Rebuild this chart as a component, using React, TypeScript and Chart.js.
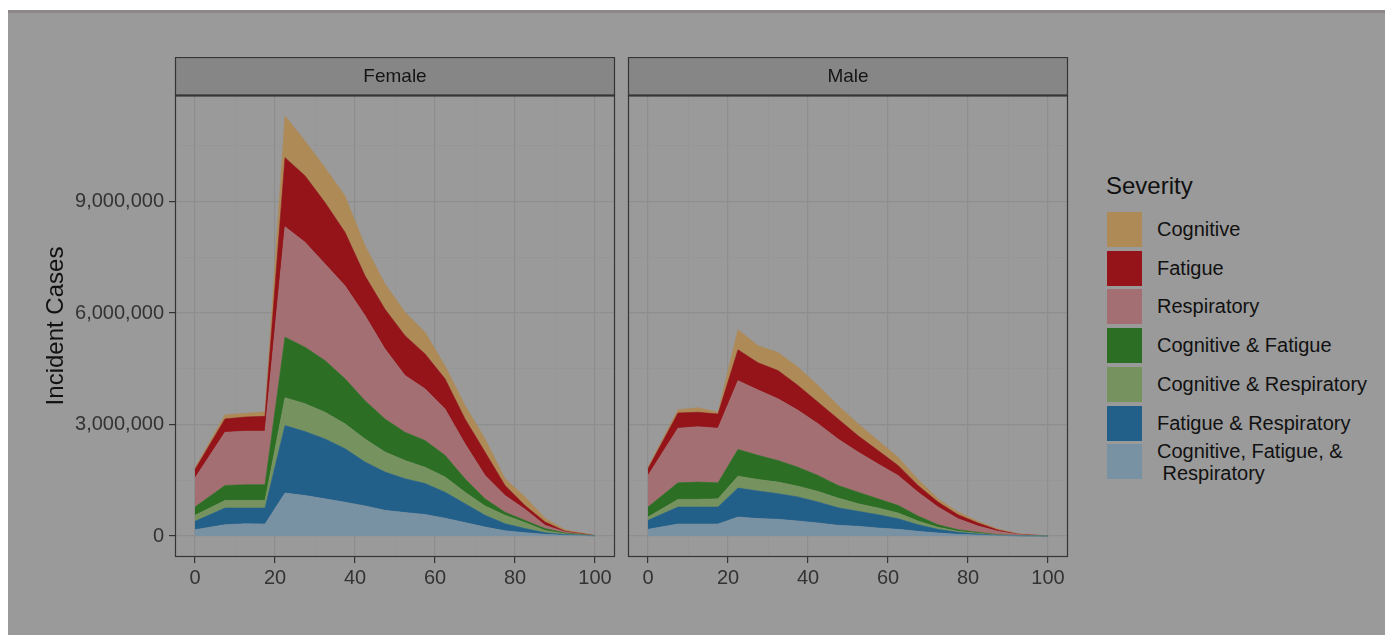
import React, { useEffect, useRef } from "react";
import { Chart, registerables } from "chart.js";

Chart.register(...registerables);

const FONT = "'Liberation Sans', Arial, Helvetica, sans-serif";

// Age (x) positions
const ageX = [0, 7.5, 12.5, 17.5, 22.5, 27.5, 32.5, 37.5, 42.5, 47.5, 52.5, 57.5, 62.5, 67.5, 72.5, 77.5, 82.5, 87.5, 92.5, 100];

// Severity categories, stacked bottom -> top
const severityLabels = [
  "Cognitive, Fatigue, & Respiratory",
  "Fatigue & Respiratory",
  "Cognitive & Respiratory",
  "Cognitive & Fatigue",
  "Respiratory",
  "Fatigue",
  "Cognitive",
];
const severityColors = ["#7891a3", "#22608a", "#76935f", "#2d6e25", "#a46f72", "#941419", "#ae8a57"];

// Female incident cases per severity
const femaleCFR = [170000, 304000, 330000, 322000, 1155000, 1090000, 1000000, 910000, 810000, 690000, 630000, 580000, 480000, 360000, 240000, 140000, 90000, 45000, 20000, 2000];
const femaleFR = [224000, 448000, 422000, 430000, 1815000, 1720000, 1610000, 1440000, 1180000, 1030000, 910000, 830000, 700000, 510000, 320000, 190000, 110000, 45000, 20000, 2000];
const femaleCR = [161000, 206000, 206000, 206000, 750000, 750000, 720000, 670000, 620000, 540000, 490000, 440000, 410000, 310000, 250000, 230000, 160000, 60000, 20000, 2000];
const femaleCF = [224000, 402000, 422000, 422000, 1630000, 1520000, 1390000, 1210000, 1030000, 890000, 760000, 720000, 580000, 360000, 190000, 80000, 60000, 50000, 20000, 2000];
const femaleR = [779000, 1430000, 1440000, 1440000, 2970000, 2820000, 2600000, 2500000, 2290000, 1880000, 1530000, 1390000, 1250000, 940000, 630000, 450000, 300000, 90000, 30000, 2000];
const femaleF = [232000, 360000, 380000, 400000, 1860000, 1790000, 1650000, 1440000, 1070000, 1070000, 1070000, 940000, 810000, 670000, 630000, 270000, 100000, 90000, 20000, 2000];
const femaleC = [40000, 110000, 100000, 120000, 1120000, 940000, 940000, 980000, 810000, 680000, 630000, 580000, 350000, 360000, 350000, 180000, 230000, 100000, 40000, 3000];

// Male incident cases per severity
const maleCFR = [179000, 322000, 322000, 322000, 510000, 469000, 448000, 403000, 349000, 287000, 260000, 215000, 179000, 125000, 81000, 45000, 27000, 9000, 3000, 0];
const maleFR = [242000, 457000, 457000, 457000, 780000, 741000, 692000, 647000, 564000, 474000, 403000, 358000, 287000, 179000, 98000, 53000, 27000, 9000, 3000, 0];
const maleCR = [89000, 206000, 206000, 221000, 320000, 310000, 310000, 290000, 287000, 259000, 206000, 179000, 152000, 99000, 54000, 27000, 18000, 9000, 3000, 0];
const maleCF = [269000, 445000, 465000, 430000, 720000, 650000, 580000, 510000, 430000, 340000, 311000, 248000, 206000, 134000, 71000, 45000, 26000, 9000, 3000, 0];
const maleR = [851000, 1470000, 1490000, 1470000, 1850000, 1760000, 1660000, 1530000, 1390000, 1250000, 1080000, 940000, 806000, 643000, 475000, 296000, 171000, 89000, 28000, 1000];
const maleF = [180000, 410000, 390000, 380000, 830000, 730000, 760000, 670000, 580000, 540000, 440000, 360000, 270000, 180000, 134000, 107000, 80000, 36000, 10000, 0];
const maleC = [40000, 90000, 120000, 50000, 540000, 460000, 490000, 490000, 450000, 360000, 320000, 270000, 220000, 160000, 87000, 72000, 45000, 27000, 10000, 1000];

const femaleSeries = [femaleCFR, femaleFR, femaleCR, femaleCF, femaleR, femaleF, femaleC];
const maleSeries = [maleCFR, maleFR, maleCR, maleCF, maleR, maleF, maleC];

// Axis ticks
const xTicks = [0, 10, 20, 30, 40, 50, 60, 70, 80, 90, 100];
const xMajor = [0, 20, 40, 60, 80, 100];
const yTicks = [0, 1500000, 3000000, 4500000, 6000000, 7500000, 9000000, 10500000];
const yMajor = [0, 3000000, 6000000, 9000000];

const X_MIN = -5;
const X_MAX = 105;
const Y_MIN = -565000;
const Y_MAX = 11865000;

const STRIP_H = 38;

type PanelProps = {
  title: string;
  series: number[][];
  showY: boolean;
  left: number;
  width: number;
  yAxisWidth: number;
  padRight: number;
};

function Panel({ title, series, showY, left, width, yAxisWidth, padRight }: PanelProps) {
  const ref = useRef<HTMLCanvasElement | null>(null);
  useEffect(() => {
    if (!ref.current) return;
    const datasets = series.map((vals, i) => ({
      label: severityLabels[i],
      data: ageX.map((x, j) => ({ x, y: vals[j] })),
      backgroundColor: severityColors[i],
      borderColor: severityColors[i],
      borderWidth: 0.6,
      pointRadius: 0,
      tension: 0,
      fill: i === 0 ? "origin" : "-1",
    }));
    const stripPlugin = {
      id: "strip",
      afterDraw(chart: any) {
        const { ctx, chartArea } = chart;
        const { left: l, right: r, top: t, bottom: b } = chartArea;
        ctx.save();
        ctx.fillStyle = "#868686";
        ctx.fillRect(l, t - STRIP_H, r - l, STRIP_H);
        ctx.strokeStyle = "#353535";
        ctx.lineWidth = 1.2;
        ctx.strokeRect(l + 0.5, t - STRIP_H + 0.5, r - l - 1, STRIP_H);
        ctx.strokeRect(l + 0.5, t + 0.5, r - l - 1, b - t - 1);
        ctx.beginPath();
        ctx.moveTo(l, t + 0.5);
        ctx.lineTo(r, t + 0.5);
        ctx.lineWidth = 2.2;
        ctx.stroke();
        ctx.fillStyle = "#151515";
        ctx.font = `19px ${FONT}`;
        ctx.textAlign = "center";
        ctx.textBaseline = "middle";
        ctx.fillText(title, (l + r) / 2, t - STRIP_H / 2 + 1);
        ctx.restore();
      },
    };
    const chart = new Chart(ref.current, {
      type: "line",
      data: { datasets },
      plugins: [stripPlugin],
      options: {
        animation: false,
        responsive: false,
        layout: { padding: { top: STRIP_H, left: 0, right: padRight, bottom: 0 } },
        plugins: { legend: { display: false }, tooltip: { enabled: false } },
        scales: {
          x: {
            type: "linear",
            min: X_MIN,
            max: X_MAX,
            afterBuildTicks: (s: any) => {
              s.ticks = xTicks.map((v) => ({ value: v }));
            },
            afterFit: (s: any) => {
              s.height = 43;
            },
            border: { display: false },
            grid: {
              color: (c: any) => (xMajor.includes(c.tick?.value) ? "#8e8e8e" : "#939393"),
              lineWidth: (c: any) => (xMajor.includes(c.tick?.value) ? 1.2 : 0.6),
              tickColor: (c: any) => (xMajor.includes(c.tick?.value) ? "#333333" : "rgba(0,0,0,0)"),
              tickLength: 6,
              tickWidth: 1.2,
            },
            ticks: {
              autoSkip: false,
              maxRotation: 0,
              padding: 3,
              color: "#333333",
              font: { family: FONT, size: 20 },
              callback: (v: any) => (xMajor.includes(Number(v)) ? String(v) : ""),
            },
          },
          y: {
            type: "linear",
            stacked: true,
            min: Y_MIN,
            max: Y_MAX,
            afterBuildTicks: (s: any) => {
              s.ticks = yTicks.map((v) => ({ value: v }));
            },
            afterFit: (s: any) => {
              s.width = yAxisWidth;
            },
            border: { display: false },
            title: {
              display: showY,
              text: "Incident Cases",
              color: "#111111",
              font: { family: FONT, size: 24 },
              padding: { top: 42, bottom: 0 },
            },
            grid: {
              color: (c: any) => (yMajor.includes(c.tick?.value) ? "#8e8e8e" : "#939393"),
              lineWidth: (c: any) => (yMajor.includes(c.tick?.value) ? 1.2 : 0.6),
              tickColor: (c: any) => (showY && yMajor.includes(c.tick?.value) ? "#333333" : "rgba(0,0,0,0)"),
              drawTicks: showY,
              tickLength: 6,
              tickWidth: 1.2,
            },
            ticks: {
              display: showY,
              autoSkip: false,
              padding: 5,
              color: "#333333",
              font: { family: FONT, size: 20 },
              callback: (v: any) => (yMajor.includes(Number(v)) ? Number(v).toLocaleString("en-US") : ""),
            },
          },
        },
      } as any,
    });
    return () => chart.destroy();
  }, [title, series, showY, yAxisWidth, padRight]);
  return (
    <canvas
      ref={ref}
      width={width}
      height={543}
      style={{ position: "absolute", left, top: 57, width, height: 543 }}
    />
  );
}

const legendTops = [212, 250.7, 289.4, 328.1, 366.8, 405.5, 444.2];

export default function App() {
  const legendItems = severityLabels.map((l, i) => ({ label: l, color: severityColors[i] })).reverse();
  return (
    <div style={{ position: "absolute", left: 0, top: 0, width: 1387, height: 635, overflow: "hidden", background: "#ffffff", fontFamily: FONT }}>
      <div style={{ position: "absolute", left: 8, top: 10, width: 1377, height: 625, background: "#9a9a9a" }} />
      <div style={{ position: "absolute", left: 8, top: 10, width: 1377, height: 3, background: "#8d8888" }} />
      <Panel title="Female" series={femaleSeries} showY={true} left={0} width={620} yAxisWidth={175} padRight={5} />
      <Panel title="Male" series={maleSeries} showY={false} left={620} width={455} yAxisWidth={8} padRight={7} />
      <div style={{ position: "absolute", left: 1106, top: 172, fontSize: 24, lineHeight: "28px", color: "#111" }}>Severity</div>
      {legendItems.map((it, i) => (
        <React.Fragment key={it.label}>
          <div style={{ position: "absolute", left: 1107, top: legendTops[i], width: 35, height: 35, background: it.color }} />
          {i < 6 ? (
            <div style={{ position: "absolute", left: 1157, top: legendTops[i] + 5, fontSize: 20, lineHeight: "24px", color: "#111", whiteSpace: "nowrap" }}>
              {it.label}
            </div>
          ) : (
            <div style={{ position: "absolute", left: 1157, top: legendTops[i] - 4, fontSize: 20, lineHeight: "22px", color: "#111", whiteSpace: "pre" }}>
              {"Cognitive, Fatigue, &\n Respiratory"}
            </div>
          )}
        </React.Fragment>
      ))}
    </div>
  );
}
